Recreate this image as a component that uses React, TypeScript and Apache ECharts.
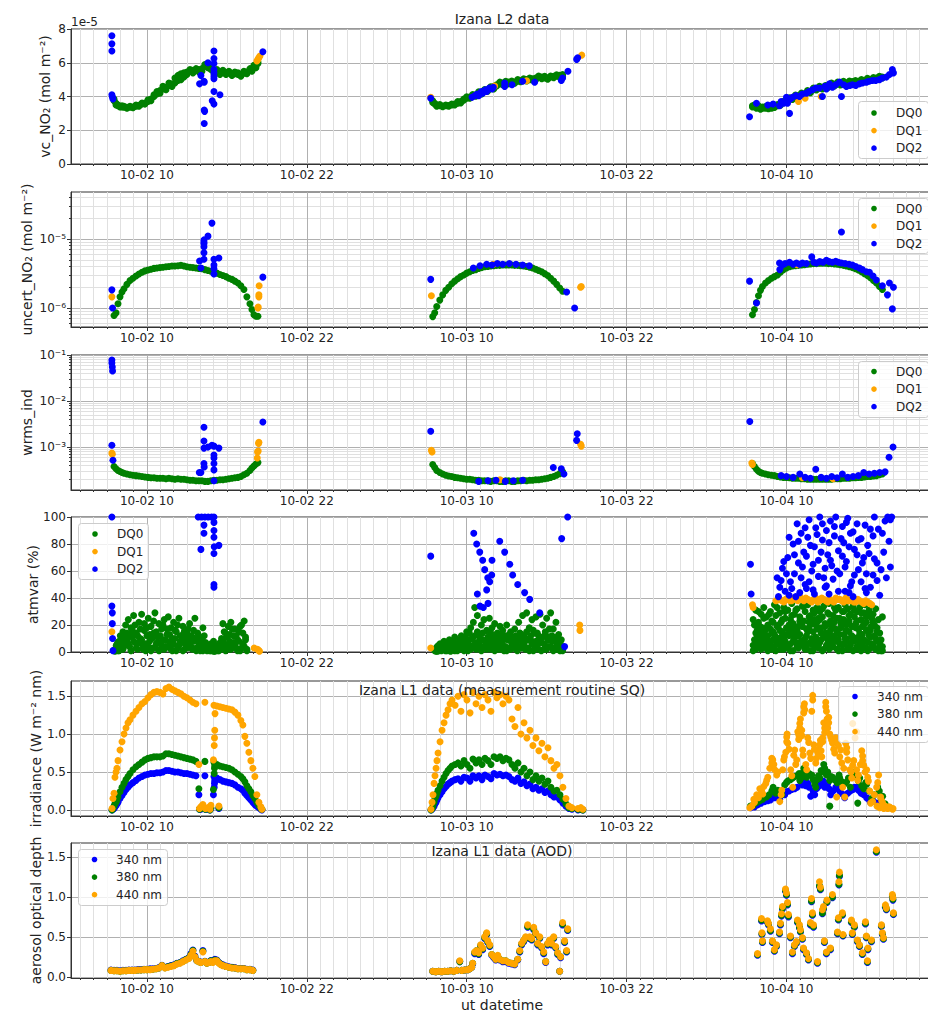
import React, { useEffect, useRef } from 'react';
import * as echarts from 'echarts';

const FONT = 'DejaVu Sans';
const INK = '#222222';
const GREEN = '#008000';
const ORANGE = '#ffa500';
const BLUE = '#0000ff';

// x: hours since 10-02 00:00 UT
const X_MIN = 4.3;
const X_MAX = 69.0;
const xMajorTicks = [10, 22, 34, 46, 58];

// ---------- L2: shared measurement times of the DQ0 records ----------
const l2Day1T = [7.53, 7.68, 7.83, 7.98, 8.13, 8.28, 8.5, 8.73, 8.95, 9.18, 9.4, 9.63, 9.85, 10.08, 10.3, 10.53, 10.75, 10.98, 11.2, 11.43, 11.65, 11.88, 12.1, 12.33, 12.55, 12.78, 13.0, 13.23, 13.45, 13.68, 13.9, 14.13, 14.35, 14.58, 14.8, 15.03, 15.25, 15.48, 15.7, 15.93, 16.15, 16.38, 16.6, 16.83, 17.05, 17.28, 17.5, 17.73, 17.88, 18.03, 18.18, 18.33];
const l2Day2T = [31.45, 31.6, 31.75, 31.98, 32.2, 32.43, 32.65, 32.88, 33.1, 33.33, 33.55, 33.78, 34.0, 34.23, 34.45, 34.68, 34.9, 35.13, 35.35, 35.58, 35.8, 36.03, 36.25, 36.48, 36.7, 36.93, 37.15, 37.38, 37.6, 37.83, 38.05, 38.28, 38.5, 38.73, 38.95, 39.18, 39.4, 39.63, 39.85, 40.08, 40.3, 40.53, 40.75, 40.98, 41.2];
const l2Day3T = [55.45, 55.6, 55.75, 55.9, 56.05, 56.2, 56.43, 56.65, 56.88, 57.1, 57.33, 57.55, 57.78, 58.0, 58.23, 58.45, 58.68, 58.9, 59.13, 59.35, 59.58, 59.8, 60.03, 60.25, 60.48, 60.7, 60.93, 61.15, 61.38, 61.6, 61.83, 62.05, 62.28, 62.5, 62.73, 62.95, 63.18, 63.4, 63.63, 63.85, 64.08, 64.3, 64.53, 64.75, 64.98, 65.2];

// vc_NO2 (units of 1e-5 mol m-2), two retrievals per time step
const vcDQ0Day1 = [3.75, 3.6, 3.5, 3.42, 3.38, 3.36, 3.36, 3.36, 3.38, 3.42, 3.48, 3.55, 3.62, 3.7, 3.85, 4.0, 4.15, 4.35, 4.45, 4.55, 4.65, 4.75, 4.8, 5.25, 5.0, 5.4, 5.45, 5.5, 5.55, 5.55, 5.6, 5.65, 5.8, 5.95, 5.6, 5.5, 5.45, 5.45, 5.45, 5.42, 5.4, 5.38, 5.35, 5.3, 5.3, 5.38, 5.45, 5.55, 5.65, 5.75, 5.85, 5.95];
const vcDQ0Day1b = [3.85, 3.5, 3.45, 3.38, 3.45, 3.42, 3.3, 3.42, 3.33, 3.5, 3.42, 3.62, 3.55, 3.8, 3.75, 4.1, 4.3, 4.2, 4.6, 4.4, 4.8, 4.6, 5.1, 4.95, 5.35, 5.15, 5.3, 5.6, 5.4, 5.65, 5.45, 5.5, 5.9, 5.7, 5.75, 5.35, 5.6, 5.3, 5.55, 5.3, 5.5, 5.25, 5.45, 5.4, 5.2, 5.5, 5.35, 5.65, 5.5, 5.85, 5.7, 6.05];
const vcDQ0Day2 = [3.75, 3.6, 3.5, 3.45, 3.44, 3.45, 3.47, 3.5, 3.55, 3.6, 3.7, 3.85, 3.9, 3.97, 4.05, 4.1, 4.2, 4.25, 4.35, 4.4, 4.5, 4.6, 4.7, 4.75, 4.8, 4.8, 4.85, 4.8, 4.85, 4.9, 4.95, 4.95, 5.0, 5.0, 5.05, 5.1, 5.15, 5.15, 5.1, 5.1, 5.15, 5.2, 5.2, 5.25, 5.2];
const vcDQ0Day2b = [3.65, 3.55, 3.42, 3.52, 3.4, 3.5, 3.42, 3.56, 3.5, 3.7, 3.62, 3.78, 3.98, 3.9, 4.12, 4.02, 4.28, 4.15, 4.42, 4.32, 4.58, 4.45, 4.62, 4.85, 4.7, 4.9, 4.75, 4.92, 4.78, 5.0, 4.88, 5.05, 4.92, 5.1, 4.98, 5.0, 5.22, 5.05, 5.2, 5.02, 5.22, 5.12, 5.28, 5.15, 5.3];
const vcDQ0Day3 = [3.45, 3.5, 3.4, 3.35, 3.3, 3.3, 3.3, 3.35, 3.3, 3.4, 3.45, 3.55, 3.65, 3.75, 3.85, 3.9, 4.0, 4.05, 4.1, 4.15, 4.25, 4.3, 4.4, 4.45, 4.5, 4.55, 4.55, 4.65, 4.7, 4.7, 4.75, 4.75, 4.8, 4.8, 4.85, 4.8, 4.85, 4.9, 4.9, 4.95, 5.0, 5.0, 5.05, 5.1, 5.15, 5.15];
const vcDQ0Day3b = [3.38, 3.42, 3.3, 3.45, 3.25, 3.38, 3.4, 3.28, 3.42, 3.35, 3.52, 3.48, 3.72, 3.68, 3.92, 3.82, 4.08, 3.95, 4.2, 4.05, 4.35, 4.22, 4.5, 4.38, 4.6, 4.45, 4.65, 4.55, 4.8, 4.62, 4.85, 4.68, 4.9, 4.75, 4.92, 4.88, 4.95, 4.82, 5.0, 4.88, 5.08, 4.95, 5.12, 5.02, 5.2, 5.1];
const vcDQ1 = [[18.25, 6.1], [18.33, 6.2], [18.4, 6.3], [18.48, 6.4], [31.3, 3.95], [36.1, 4.62], [38.5, 4.93], [42.63, 6.45], [58.9, 3.7], [59.4, 3.9], [60.6, 4.0]];
const vcDQ2 = [
  [7.37, 7.6], [7.37, 7.12], [7.37, 6.7], [7.37, 4.1], [7.42, 3.95], [7.45, 3.85],
  [14.05, 5.25], [13.95, 4.75], [14.3, 4.85], [14.28, 4.9], [14.3, 3.2], [14.33, 3.12], [14.3, 2.4], [14.58, 6.0],
  [15.03, 6.7], [15.03, 6.25], [15.03, 5.95], [15.03, 5.6], [15.03, 5.4], [15.03, 5.2], [15.03, 5.05], [15.03, 4.3], [14.9, 3.75], [15.03, 3.55], [15.48, 4.1], [18.7, 6.65],
  [31.3, 3.9], [34.4, 3.95], [34.6, 4.05], [34.8, 4.15], [34.9, 4.05], [35.1, 4.3], [35.2, 4.2], [35.4, 4.4], [35.5, 4.3], [35.7, 4.5], [35.9, 4.45], [36.0, 4.55], [36.85, 4.8], [36.85, 4.6], [37.4, 4.7], [38.2, 4.9], [39.1, 4.85], [41.1, 4.95], [41.2, 5.1], [41.6, 5.5], [42.25, 6.2], [42.33, 6.3],
  [55.23, 2.8], [55.75, 3.6], [56.6, 3.5], [57.0, 3.55], [57.48, 3.45], [57.6, 3.7], [57.8, 3.6], [58.0, 3.95], [58.08, 3.6], [58.23, 3.0], [58.3, 3.85], [58.45, 3.95], [58.7, 4.05], [58.98, 4.0], [59.2, 4.15], [59.5, 4.2], [59.7, 4.3], [59.95, 4.4], [60.2, 4.5], [60.48, 4.5], [60.7, 4.0], [60.9, 4.6], [61.0, 4.45], [61.23, 4.75], [61.45, 4.55], [61.7, 4.7], [61.98, 4.85], [62.13, 4.0], [62.3, 4.7], [62.5, 4.6], [62.75, 4.65], [62.95, 4.7], [63.2, 4.65], [63.48, 4.75], [63.7, 4.8], [64.0, 4.85], [64.2, 4.9], [64.45, 4.95], [64.7, 4.95], [64.98, 5.0], [65.2, 5.1], [65.5, 5.15], [65.73, 5.3], [65.95, 5.6], [66.03, 5.4],
];

// uncert_NO2 (mol m-2)
const uncDQ0Day1 = [7.8e-7, 8.5e-7, 1.15e-6, 1.45e-6, 1.7e-6, 1.9e-6, 2.2e-6, 2.5e-6, 2.7e-6, 2.9e-6, 3.1e-6, 3.3e-6, 3.45e-6, 3.55e-6, 3.65e-6, 3.75e-6, 3.8e-6, 3.85e-6, 3.9e-6, 3.95e-6, 4.0e-6, 4.05e-6, 4.05e-6, 4.1e-6, 4.15e-6, 4.05e-6, 3.95e-6, 3.9e-6, 3.85e-6, 3.8e-6, 3.75e-6, 3.7e-6, 3.6e-6, 3.5e-6, 3.4e-6, 3.3e-6, 3.2e-6, 3.05e-6, 2.95e-6, 2.85e-6, 2.7e-6, 2.6e-6, 2.45e-6, 2.3e-6, 2.1e-6, 1.85e-6, 1.45e-6, 1.15e-6, 9.5e-7, 8.0e-7, 7.6e-7, 7.6e-7];
const uncDQ0Day2 = [7.5e-7, 8.5e-7, 1.05e-6, 1.3e-6, 1.55e-6, 1.8e-6, 2.0e-6, 2.25e-6, 2.45e-6, 2.65e-6, 2.85e-6, 3.0e-6, 3.2e-6, 3.35e-6, 3.5e-6, 3.6e-6, 3.75e-6, 3.85e-6, 3.95e-6, 4.0e-6, 4.05e-6, 4.1e-6, 4.15e-6, 4.15e-6, 4.2e-6, 4.2e-6, 4.2e-6, 4.2e-6, 4.15e-6, 4.15e-6, 4.1e-6, 4.05e-6, 4.0e-6, 3.9e-6, 3.8e-6, 3.65e-6, 3.5e-6, 3.35e-6, 3.15e-6, 2.95e-6, 2.7e-6, 2.45e-6, 2.2e-6, 1.95e-6, 1.75e-6];
const uncDQ0Day3 = [8.0e-7, 9.5e-7, 1.2e-6, 1.5e-6, 1.8e-6, 2.05e-6, 2.3e-6, 2.5e-6, 2.7e-6, 2.85e-6, 3.0e-6, 3.3e-6, 3.6e-6, 3.8e-6, 3.95e-6, 4.05e-6, 4.1e-6, 4.15e-6, 4.2e-6, 4.25e-6, 4.3e-6, 4.35e-6, 4.4e-6, 4.4e-6, 4.45e-6, 4.45e-6, 4.45e-6, 4.4e-6, 4.4e-6, 4.35e-6, 4.3e-6, 4.25e-6, 4.15e-6, 4.05e-6, 3.95e-6, 3.85e-6, 3.7e-6, 3.55e-6, 3.35e-6, 3.15e-6, 2.95e-6, 2.75e-6, 2.5e-6, 2.3e-6, 2.05e-6, 1.85e-6];
const uncDQ1 = [[7.37, 1.45e-6], [18.33, 1.0e-6], [18.35, 1.03e-6], [18.4, 1.45e-6], [18.4, 1.55e-6], [18.42, 2.1e-6], [31.35, 1.5e-6], [36.0, 4.3e-6], [42.55, 2.0e-6], [42.6, 2.05e-6], [58.8, 4.25e-6]];
const uncDQ2 = [
  [7.37, 1.83e-6], [7.42, 1.0e-6], [13.95, 4.8e-6], [14.05, 3.8e-6], [14.28, 9.7e-6], [14.28, 9.0e-6], [14.28, 8.5e-6], [14.28, 7.7e-6], [14.28, 6.3e-6], [14.28, 5.1e-6], [14.58, 1.1e-5], [14.88, 1.7e-5], [15.03, 5.1e-6], [15.03, 4.2e-6], [15.03, 3.7e-6], [15.03, 3.1e-6], [15.4, 5.3e-6], [18.7, 2.8e-6],
  [31.3, 2.6e-6], [34.5, 3.8e-6], [35.0, 4.1e-6], [35.5, 4.3e-6], [35.9, 4.2e-6], [36.3, 4.4e-6], [36.7, 4.3e-6], [37.2, 4.4e-6], [37.7, 4.3e-6], [38.2, 4.2e-6], [38.7, 4.1e-6], [41.5, 1.7e-6], [42.1, 1.0e-6],
  [55.23, 2.45e-6], [55.75, 1.18e-6], [57.48, 4.5e-6], [57.5, 3.6e-6], [57.7, 4.2e-6], [57.9, 4.4e-6], [58.23, 4.6e-6], [58.5, 4.3e-6], [58.75, 4.5e-6], [58.98, 4.3e-6], [59.2, 4.5e-6], [59.5, 4.4e-6], [59.9, 5.5e-6], [60.05, 4.6e-6], [60.25, 4.5e-6], [60.5, 4.7e-6], [60.75, 4.6e-6], [61.0, 4.9e-6], [61.2, 4.7e-6], [61.45, 4.6e-6], [61.7, 4.75e-6], [61.9, 4.6e-6], [62.13, 1.26e-5], [62.13, 4.5e-6], [62.4, 4.4e-6], [62.7, 4.3e-6], [62.95, 4.2e-6], [63.2, 4.0e-6], [63.48, 3.8e-6], [63.7, 3.6e-6], [64.0, 3.35e-6], [64.23, 3.3e-6], [64.5, 2.9e-6], [64.75, 2.55e-6], [65.2, 2.1e-6], [65.58, 1.55e-6], [65.73, 2.3e-6], [65.95, 9.7e-7], [66.03, 2.0e-6],
];

// wrms_ind
const wrmsDQ0Day1 = [3.8e-4, 3.4e-4, 3.1e-4, 2.95e-4, 2.8e-4, 2.7e-4, 2.6e-4, 2.5e-4, 2.45e-4, 2.4e-4, 2.35e-4, 2.3e-4, 2.25e-4, 2.2e-4, 2.15e-4, 2.15e-4, 2.1e-4, 2.1e-4, 2.1e-4, 2.05e-4, 2.1e-4, 2.05e-4, 2.0e-4, 2.05e-4, 2.0e-4, 2.0e-4, 1.95e-4, 1.9e-4, 1.9e-4, 1.85e-4, 1.85e-4, 1.85e-4, 1.8e-4, 1.8e-4, 1.85e-4, 1.9e-4, 1.9e-4, 1.95e-4, 1.95e-4, 2.0e-4, 2.05e-4, 2.1e-4, 2.15e-4, 2.2e-4, 2.3e-4, 2.5e-4, 2.7e-4, 3.1e-4, 3.5e-4, 3.9e-4, 4.3e-4, 4.6e-4];
const wrmsDQ0Day2 = [4.2e-4, 3.6e-4, 3.1e-4, 2.8e-4, 2.6e-4, 2.45e-4, 2.35e-4, 2.3e-4, 2.2e-4, 2.15e-4, 2.1e-4, 2.05e-4, 2.0e-4, 2.0e-4, 1.95e-4, 1.9e-4, 1.9e-4, 1.85e-4, 1.85e-4, 1.85e-4, 1.8e-4, 1.85e-4, 1.85e-4, 1.8e-4, 1.8e-4, 1.85e-4, 1.85e-4, 1.8e-4, 1.8e-4, 1.85e-4, 1.85e-4, 1.9e-4, 1.85e-4, 1.9e-4, 1.9e-4, 1.95e-4, 1.95e-4, 2.0e-4, 2.05e-4, 2.1e-4, 2.2e-4, 2.3e-4, 2.45e-4, 2.65e-4, 2.9e-4];
const wrmsDQ0Day3 = [4.4e-4, 3.8e-4, 3.3e-4, 3.0e-4, 2.8e-4, 2.7e-4, 2.6e-4, 2.5e-4, 2.45e-4, 2.4e-4, 2.3e-4, 2.25e-4, 2.2e-4, 2.2e-4, 2.15e-4, 2.1e-4, 2.1e-4, 2.1e-4, 2.05e-4, 2.05e-4, 2.0e-4, 2.0e-4, 2.0e-4, 2.0e-4, 2.0e-4, 2.0e-4, 2.0e-4, 2.0e-4, 2.0e-4, 2.05e-4, 2.05e-4, 2.05e-4, 2.1e-4, 2.1e-4, 2.1e-4, 2.15e-4, 2.15e-4, 2.2e-4, 2.2e-4, 2.25e-4, 2.3e-4, 2.3e-4, 2.35e-4, 2.4e-4, 2.5e-4, 2.6e-4];
const wrmsDQ1 = [[7.37, 7.4e-4], [7.4, 7.0e-4], [18.28, 5.8e-4], [18.3, 7.8e-4], [18.35, 8.2e-4], [18.38, 1.2e-3], [18.4, 1.27e-3], [31.35, 8.5e-4], [31.4, 7.8e-4], [36.5, 1.95e-4], [42.55, 1.15e-3], [42.6, 1.05e-3], [55.4, 4.5e-4], [55.45, 4.2e-4], [59.2, 2.15e-4], [61.5, 2.05e-4]];
const wrmsDQ2 = [
  [7.37, 7.8e-2], [7.37, 6.7e-2], [7.4, 5.5e-2], [7.42, 4.5e-2], [7.37, 1.1e-3], [7.45, 5.2e-4], [13.93, 2.8e-4], [14.05, 2.8e-4], [14.28, 2.7e-3], [14.28, 1.35e-3], [14.28, 9.5e-4], [14.28, 4.4e-4], [14.3, 3.7e-4], [14.58, 1.0e-3], [14.88, 1.1e-3], [15.03, 1.05e-3], [15.03, 6.7e-4], [15.03, 5.8e-4], [15.03, 4.4e-4], [15.03, 3.2e-4], [15.03, 1.85e-4], [15.4, 9.5e-4], [18.7, 3.5e-3],
  [31.3, 2.2e-3], [34.9, 1.8e-4], [35.6, 1.85e-4], [36.2, 1.9e-4], [36.9, 1.8e-4], [37.5, 1.85e-4], [38.2, 1.9e-4], [40.5, 3.6e-4], [41.1, 3.4e-4], [41.3, 2.6e-4], [42.25, 1.4e-3], [42.3, 1.95e-3],
  [55.25, 3.6e-3], [57.6, 2.4e-4], [58.0, 2.3e-4], [58.5, 2.2e-4], [59.0, 2.6e-4], [59.4, 2.2e-4], [59.8, 2.1e-4], [60.2, 3.3e-4], [60.6, 2.2e-4], [61.0, 2.1e-4], [61.4, 2.3e-4], [61.8, 2.15e-4], [62.2, 2.6e-4], [62.6, 2.2e-4], [63.0, 2.3e-4], [63.4, 2.4e-4], [63.8, 2.8e-4], [64.2, 2.6e-4], [64.6, 2.7e-4], [65.0, 2.8e-4], [65.4, 2.9e-4], [65.7, 6.0e-4], [66.0, 1.0e-3],
];

// atmvar (%), several records per time step
const atmDay1T = [7.6, 7.7, 7.8, 7.9, 8.0, 8.1, 8.2, 8.3, 8.4, 8.5, 8.6, 8.7, 8.8, 8.9, 9.0, 9.1, 9.2, 9.3, 9.4, 9.5, 9.6, 9.7, 9.8, 9.9, 10.0, 10.1, 10.2, 10.3, 10.4, 10.5, 10.6, 10.7, 10.8, 10.9, 11.0, 11.1, 11.2, 11.3, 11.4, 11.5, 11.6, 11.7, 11.8, 11.9, 12.0, 12.1, 12.2, 12.3, 12.4, 12.5, 12.6, 12.7, 12.8, 12.9, 13.0, 13.1, 13.2, 13.3, 13.4, 13.5, 13.6, 13.7, 13.8, 13.9, 14.0, 14.1, 14.2, 14.3, 14.4, 14.5, 14.6, 14.7, 14.8, 14.9, 15.0, 15.1, 15.2, 15.3, 15.4, 15.5, 15.6, 15.7, 15.8, 15.9, 16.0, 16.1, 16.2, 16.3, 16.4, 16.5, 16.6, 16.7, 16.8, 16.9, 17.0, 17.1, 17.2, 17.3, 17.4, 17.5];
const atmDQ0Day1 = [2, 5, 1, 8, 12, 3, 15, 6, 20, 9, 24, 4, 18, 11, 27, 7, 14, 2, 22, 10, 28, 5, 16, 1, 12, 25, 8, 19, 3, 14, 29, 6, 11, 21, 2, 17, 9, 24, 4, 13, 26, 7, 18, 1, 22, 10, 15, 3, 25, 8, 12, 19, 2, 6, 14, 9, 21, 4, 11, 16, 25, 3, 8, 12, 1, 5, 18, 2, 7, 3, 4, 1, 6, 2, 8, 0.5, 3, 5, 1, 7, 10, 21, 6, 14, 2, 19, 8, 22, 4, 12, 17, 3, 9, 15, 1, 20, 6, 23, 11, 2];
const atmDQ0Day1b = [0.5, 3, 7, 1, 4, 10, 2, 11, 5, 14, 6, 13, 1, 16, 8, 20, 3, 12, 7, 17, 9, 2, 21, 6, 18, 4, 13, 1, 10, 23, 3, 15, 7, 1, 12, 5, 20, 2, 9, 17, 4, 13, 2, 10, 6, 16, 1, 20, 5, 12, 7, 1, 15, 10, 3, 17, 6, 12, 2, 8, 10, 1, 14, 5, 3, 9, 1, 12, 4, 1, 2, 5, 1, 3, 0.5, 4, 2, 1, 3, 2, 3, 8, 15, 1, 11, 5, 13, 2, 17, 7, 5, 12, 1, 8, 19, 3, 14, 4, 9, 1];
const atmDay2T = [31.6, 31.7, 31.8, 31.9, 32.0, 32.1, 32.2, 32.3, 32.4, 32.5, 32.6, 32.7, 32.8, 32.9, 33.0, 33.1, 33.2, 33.3, 33.4, 33.5, 33.6, 33.7, 33.8, 33.9, 34.0, 34.1, 34.2, 34.3, 34.4, 34.5, 34.6, 34.7, 34.8, 34.9, 35.0, 35.1, 35.2, 35.3, 35.4, 35.5, 35.6, 35.7, 35.8, 35.9, 36.0, 36.1, 36.2, 36.3, 36.4, 36.5, 36.6, 36.7, 36.8, 36.9, 37.0, 37.1, 37.2, 37.3, 37.4, 37.5, 37.6, 37.7, 37.8, 37.9, 38.0, 38.1, 38.2, 38.3, 38.4, 38.5, 38.6, 38.7, 38.8, 38.9, 39.0, 39.1, 39.2, 39.3, 39.4, 39.5, 39.6, 39.7, 39.8, 39.9, 40.0, 40.1, 40.2, 40.3, 40.4, 40.5, 40.6, 40.7, 40.8, 40.9, 41.0, 41.1, 41.2];
const atmDQ0Day2 = [2, 0.5, 4, 1, 6, 2, 3, 8, 1, 5, 3, 9, 0.5, 6, 2, 11, 4, 1, 7, 3, 12, 2, 8, 5, 15, 1, 9, 18, 4, 22, 33, 7, 27, 13, 3, 20, 9, 24, 5, 16, 11, 25, 2, 18, 7, 21, 4, 14, 10, 19, 6, 16, 1, 12, 20, 3, 9, 15, 5, 11, 17, 2, 8, 22, 4, 13, 27, 6, 10, 29, 3, 18, 9, 24, 1, 14, 26, 5, 12, 28, 7, 20, 2, 15, 25, 4, 11, 29, 8, 17, 3, 22, 6, 13, 1, 9, 4];
const atmDQ0Day2b = [1, 3, 0.5, 5, 2, 1, 6, 2, 4, 1, 5, 1, 4, 2, 8, 1, 3, 6, 2, 9, 4, 7, 1, 11, 3, 6, 14, 2, 10, 5, 12, 2, 15, 6, 10, 1, 14, 4, 8, 2, 5, 9, 14, 3, 11, 1, 8, 6, 2, 12, 2, 8, 11, 4, 1, 9, 13, 2, 7, 3, 6, 12, 1, 9, 14, 3, 7, 11, 2, 15, 9, 1, 12, 6, 16, 3, 8, 14, 2, 10, 1, 11, 6, 13, 2, 9, 17, 4, 12, 1, 8, 2, 11, 4, 7, 2, 1];
const atmDay3T = [55.5, 55.6, 55.7, 55.8, 55.9, 56.0, 56.1, 56.2, 56.3, 56.4, 56.5, 56.6, 56.7, 56.8, 56.9, 57.0, 57.1, 57.2, 57.3, 57.4, 57.5, 57.6, 57.7, 57.8, 57.9, 58.0, 58.1, 58.2, 58.3, 58.4, 58.5, 58.6, 58.7, 58.8, 58.9, 59.0, 59.1, 59.2, 59.3, 59.4, 59.5, 59.6, 59.7, 59.8, 59.9, 60.0, 60.1, 60.2, 60.3, 60.4, 60.5, 60.6, 60.7, 60.8, 60.9, 61.0, 61.1, 61.2, 61.3, 61.4, 61.5, 61.6, 61.7, 61.8, 61.9, 62.0, 62.1, 62.2, 62.3, 62.4, 62.5, 62.6, 62.7, 62.8, 62.9, 63.0, 63.1, 63.2, 63.3, 63.4, 63.5, 63.6, 63.7, 63.8, 63.9, 64.0, 64.1, 64.2, 64.3, 64.4, 64.5, 64.6, 64.7, 64.8, 64.9, 65.0, 65.1, 65.2];
const atmDQ0Day3 = [5, 20, 2, 12, 30, 8, 15, 3, 25, 10, 18, 1, 28, 6, 14, 22, 4, 11, 33, 7, 16, 2, 24, 9, 30, 5, 13, 20, 1, 27, 8, 17, 31, 4, 12, 23, 6, 19, 34, 10, 3, 15, 26, 7, 21, 1, 29, 11, 17, 5, 24, 9, 32, 2, 14, 20, 6, 28, 12, 4, 18, 33, 8, 25, 1, 13, 22, 5, 30, 10, 16, 3, 27, 7, 19, 11, 31, 2, 23, 9, 14, 29, 4, 20, 8, 26, 1, 12, 18, 6, 22, 3, 10, 15, 2, 7, 1, 4];
const atmDQ0Day3b = [1, 9, 14, 4, 7, 19, 2, 11, 6, 16, 3, 12, 8, 17, 2, 9, 13, 1, 7, 20, 5, 11, 15, 2, 8, 18, 3, 12, 6, 14, 1, 10, 7, 16, 3, 13, 20, 5, 9, 2, 12, 6, 18, 1, 10, 15, 4, 8, 22, 3, 7, 14, 1, 11, 19, 5, 9, 2, 16, 8, 4, 12, 17, 2, 9, 6, 21, 1, 13, 7, 10, 2, 15, 5, 12, 1, 8, 18, 4, 11, 6, 1, 13, 9, 3, 16, 7, 2, 11, 19, 5, 12, 2, 8, 1, 4, 2, 1];
const atmDQ0Day3c = [24, 3, 31, 16, 22, 6, 28, 18, 33, 12, 26, 20, 4, 30, 23, 15, 35, 27, 19, 10, 29, 22, 7, 33, 25, 13, 31, 17, 24, 36, 21, 28, 14, 32, 19, 26, 8, 34, 23, 30, 17, 35, 22, 27, 6, 31, 24, 20, 33, 25, 30, 18, 26, 34, 21, 12, 29, 36, 23, 19, 27, 22, 31, 15, 33, 25, 18, 30, 24, 35, 20, 32, 23, 28, 11, 34, 26, 21, 30, 17, 33, 24, 19, 29, 35, 22, 27, 31, 16, 25, 28, 20, 32, 18, 24, 14, 9, 26];
const atmDQ1 = [[7.37, 15], [18.05, 3], [18.3, 2], [18.4, 1], [18.45, 0.5], [31.3, 3], [42.48, 20], [42.5, 16], [55.45, 35], [55.5, 33], [57.2, 38], [57.35, 38.5], [57.5, 39], [57.65, 38], [57.8, 37], [57.95, 39], [58.1, 40], [58.25, 38], [58.4, 38], [58.55, 40], [58.7, 39], [58.85, 38], [59.0, 41], [59.15, 39], [59.3, 38], [59.45, 40], [59.6, 39], [59.75, 38], [59.9, 37], [60.05, 39], [60.2, 40], [60.35, 37], [60.5, 38], [60.65, 40], [60.8, 39], [60.95, 38], [61.1, 37], [61.25, 39], [61.4, 38], [61.55, 37], [61.7, 40], [61.85, 39], [62.0, 39], [62.15, 38], [62.3, 37], [62.45, 40], [62.6, 38], [62.75, 38], [62.9, 39], [63.05, 37], [63.2, 37], [63.35, 39], [63.5, 38], [63.65, 37], [63.8, 36], [63.95, 38], [64.1, 37], [64.25, 36], [64.4, 35]];
const atmDQ2 = [
  [7.37, 100], [7.37, 34], [7.4, 29], [7.4, 21], [7.42, 10], [7.45, 1], [13.85, 100], [14.1, 100], [14.35, 100], [14.6, 100], [14.85, 100], [15.03, 100], [14.28, 94], [14.28, 88], [14.05, 76], [15.03, 96], [15.03, 90], [15.03, 85], [15.05, 78], [15.03, 73], [15.03, 50], [15.03, 48], [15.4, 79],
  [31.3, 71], [34.53, 88], [34.75, 80], [34.8, 43], [34.98, 74], [35.0, 34], [35.2, 68], [35.25, 33], [35.35, 61], [35.5, 46], [35.58, 55], [35.6, 36], [35.73, 52], [35.88, 57], [35.9, 68], [36.48, 82], [36.85, 74], [37.23, 65], [37.45, 57], [37.83, 50], [38.35, 44], [38.73, 39], [39.48, 29], [41.13, 84], [41.58, 100], [41.35, 4],
  [55.3, 65], [55.35, 43], [57.3, 55], [57.4, 41], [57.5, 48], [57.6, 53], [57.7, 62], [57.8, 67], [57.9, 45], [58.0, 58], [58.1, 70], [58.2, 42], [58.2, 85], [58.3, 52], [58.4, 47], [58.5, 80], [58.6, 58], [58.6, 72], [58.7, 41], [58.8, 95], [58.9, 66], [58.9, 82], [59.0, 44], [59.1, 88], [59.1, 55], [59.2, 63], [59.3, 74], [59.4, 50], [59.4, 92], [59.5, 47], [59.5, 71], [59.6, 85], [59.7, 98], [59.7, 52], [59.8, 79], [59.9, 60], [60.0, 46], [60.0, 65], [60.1, 78], [60.1, 43], [60.2, 92], [60.3, 87], [60.4, 68], [60.4, 56], [60.5, 100], [60.6, 74], [60.7, 83], [60.7, 95], [60.8, 55], [60.9, 48], [60.9, 62], [61.0, 90], [61.0, 49], [61.1, 72], [61.2, 43], [61.2, 81], [61.3, 97], [61.3, 68], [61.4, 64], [61.5, 54], [61.6, 86], [61.6, 93], [61.7, 100], [61.8, 60], [61.9, 75], [61.9, 45], [62.0, 58], [62.1, 84], [62.2, 93], [62.2, 71], [62.3, 81], [62.4, 45], [62.4, 63], [62.5, 67], [62.5, 96], [62.6, 99], [62.7, 44], [62.7, 78], [62.8, 88], [62.8, 49], [62.9, 52], [63.0, 41], [63.0, 89], [63.1, 76], [63.1, 57], [63.3, 95], [63.3, 72], [63.4, 61], [63.4, 83], [63.6, 84], [63.6, 52], [63.7, 66], [63.8, 70], [63.9, 47], [63.9, 94], [64.0, 44], [64.0, 58], [64.1, 79], [64.2, 73], [64.3, 91], [64.3, 48], [64.5, 57], [64.5, 86], [64.6, 100], [64.6, 69], [64.8, 66], [64.8, 53], [64.9, 91], [65.0, 42], [65.1, 61], [65.2, 88], [65.3, 74], [65.4, 97], [65.5, 55], [65.6, 100], [65.7, 82], [65.8, 98], [65.8, 63], [65.9, 100],
];

// ---------- L1 irradiance (W m-2 nm) ----------
const irrDay1T = [7.38, 7.45, 7.53, 7.6, 7.68, 7.75, 7.83, 7.98, 8.13, 8.28, 8.43, 8.58, 8.73, 8.95, 9.18, 9.4, 9.63, 9.85, 10.08, 10.3, 10.53, 10.75, 10.98, 11.2, 11.43, 11.65, 11.88, 12.1, 12.33, 12.55, 12.78, 13.0, 13.23, 13.45, 13.68, 13.9, 14.13, 14.35, 14.58, 14.8, 15.03, 15.25, 15.48, 15.7, 15.93, 16.15, 16.38, 16.6, 16.83, 17.05, 17.2, 17.35, 17.5, 17.65, 17.8, 17.95, 18.1, 18.25, 18.4, 18.55, 18.63, 13.94, 14.05, 14.2, 14.39, 14.73, 14.99, 15.05, 15.07, 15.09, 15.11, 15.4];
const irr440Day1 = [0.02, 0.15, 0.22, 0.43, 0.5, 0.55, 0.65, 0.79, 0.9, 1.0, 1.08, 1.15, 1.19, 1.25, 1.3, 1.35, 1.4, 1.43, 1.48, 1.52, 1.55, 1.56, 1.55, 1.53, 1.6, 1.62, 1.59, 1.57, 1.55, 1.53, 1.5, 1.48, 1.45, 1.42, 1.4, 0.6, 0.05, 1.42, 0.03, 0.06, 1.38, 1.37, 1.36, 1.35, 1.34, 1.33, 1.32, 1.29, 1.25, 1.18, 1.12, 0.97, 0.88, 0.76, 0.65, 0.55, 0.44, 0.2, 0.1, 0.04, 0.01, 0.02, 0.04, 0.07, 0.02, 0.01, 0.66, 0.85, 0.95, 1.05, 1.27, 0.05];
const irr380Day1 = [0.0, 0.02, 0.05, 0.08, 0.1, 0.13, 0.17, 0.24, 0.3, 0.35, 0.4, 0.44, 0.48, 0.53, 0.57, 0.6, 0.63, 0.66, 0.68, 0.69, 0.7, 0.7, 0.7, 0.71, 0.74, 0.74, 0.73, 0.72, 0.71, 0.7, 0.69, 0.68, 0.67, 0.66, 0.64, 0.28, 0.03, 0.64, 0.02, 0.03, 0.63, 0.6, 0.58, 0.57, 0.56, 0.55, 0.53, 0.5, 0.47, 0.44, 0.41, 0.37, 0.32, 0.28, 0.24, 0.19, 0.15, 0.1, 0.06, 0.02, 0.01, 0.01, 0.02, 0.03, 0.01, 0.0, 0.27, 0.48, 0.55, 0.58, 0.6, 0.03];
const irr340Day1 = [0.0, 0.01, 0.02, 0.04, 0.06, 0.08, 0.1, 0.15, 0.19, 0.23, 0.27, 0.3, 0.33, 0.36, 0.39, 0.42, 0.44, 0.46, 0.47, 0.48, 0.48, 0.49, 0.49, 0.5, 0.52, 0.52, 0.51, 0.5, 0.5, 0.49, 0.48, 0.48, 0.47, 0.46, 0.45, 0.2, 0.02, 0.45, 0.01, 0.02, 0.44, 0.42, 0.4, 0.38, 0.37, 0.36, 0.35, 0.33, 0.3, 0.28, 0.26, 0.22, 0.19, 0.16, 0.13, 0.1, 0.07, 0.05, 0.03, 0.01, 0.0, 0.01, 0.01, 0.02, 0.01, 0.0, 0.2, 0.3, 0.35, 0.38, 0.4, 0.02];
const irrDay2T = [31.32, 31.4, 31.47, 31.55, 31.62, 31.7, 31.77, 31.85, 32.0, 32.15, 32.3, 32.45, 32.6, 32.75, 32.9, 33.13, 33.35, 33.57, 33.8, 34.02, 34.25, 34.47, 34.7, 34.92, 35.15, 35.37, 35.6, 35.82, 36.05, 36.27, 36.5, 36.72, 36.95, 37.17, 37.4, 37.62, 37.85, 38.07, 38.3, 38.52, 38.75, 38.97, 39.2, 39.42, 39.65, 39.87, 40.1, 40.32, 40.55, 40.77, 41.0, 41.22, 41.45, 41.67, 41.9, 42.35, 42.57, 42.72];
const irr440Day2 = [0.01, 0.1, 0.2, 0.35, 0.45, 0.55, 0.65, 0.75, 0.9, 1.05, 1.15, 1.25, 1.32, 1.4, 1.45, 1.38, 1.5, 1.3, 1.52, 1.45, 1.28, 1.55, 1.4, 1.5, 1.35, 1.52, 1.45, 1.3, 1.55, 1.48, 1.52, 1.4, 1.5, 1.45, 1.2, 1.1, 1.35, 1.0, 1.15, 0.95, 1.05, 0.85, 0.95, 0.78, 0.88, 0.7, 0.82, 0.65, 0.55, 0.6, 0.45, 0.3, 0.15, 0.05, 0.03, 0.02, 0.03, 0.01];
const irr380Day2 = [0.0, 0.02, 0.05, 0.1, 0.15, 0.18, 0.22, 0.26, 0.32, 0.38, 0.43, 0.48, 0.52, 0.55, 0.58, 0.6, 0.62, 0.58, 0.65, 0.6, 0.55, 0.67, 0.62, 0.66, 0.6, 0.68, 0.65, 0.6, 0.7, 0.68, 0.7, 0.65, 0.68, 0.66, 0.6, 0.55, 0.62, 0.5, 0.55, 0.45, 0.5, 0.4, 0.45, 0.38, 0.42, 0.34, 0.38, 0.3, 0.25, 0.26, 0.2, 0.14, 0.08, 0.03, 0.02, 0.01, 0.01, 0.0];
const irr340Day2 = [0.0, 0.01, 0.03, 0.05, 0.08, 0.1, 0.13, 0.16, 0.2, 0.24, 0.28, 0.31, 0.34, 0.36, 0.38, 0.4, 0.41, 0.38, 0.43, 0.42, 0.38, 0.45, 0.42, 0.45, 0.4, 0.46, 0.44, 0.41, 0.48, 0.46, 0.47, 0.45, 0.46, 0.44, 0.4, 0.38, 0.42, 0.35, 0.37, 0.32, 0.34, 0.28, 0.3, 0.26, 0.28, 0.23, 0.25, 0.2, 0.17, 0.17, 0.13, 0.09, 0.05, 0.02, 0.01, 0.0, 0.01, 0.0];
const irr440Day3 = [[55.25, 0.03], [55.4, 0.05], [55.55, 0.14], [55.6, 0.1], [55.77, 0.2], [55.9, 0.16], [56.0, 0.28], [56.15, 0.24], [56.22, 0.21], [56.3, 0.31], [56.45, 0.35], [56.52, 0.39], [56.6, 0.43], [56.75, 0.55], [56.9, 0.68], [56.9, 0.62], [56.97, 0.66], [57.05, 0.6], [57.12, 0.53], [57.27, 0.46], [57.35, 0.5], [57.5, 0.11], [57.6, 0.2], [57.65, 0.26], [57.72, 0.53], [57.8, 0.66], [57.85, 0.7], [57.95, 0.76], [58.02, 0.96], [58.02, 0.9], [58.05, 1.0], [58.1, 0.88], [58.2, 0.8], [58.32, 0.53], [58.4, 0.45], [58.47, 0.3], [58.55, 0.72], [58.62, 0.79], [58.7, 0.6], [58.77, 0.66], [58.85, 1.03], [58.92, 0.99], [58.92, 0.93], [59.0, 1.14], [59.0, 1.08], [59.05, 1.2], [59.15, 1.05], [59.15, 0.98], [59.22, 0.79], [59.25, 0.72], [59.3, 1.36], [59.3, 1.28], [59.35, 1.4], [59.37, 1.32], [59.45, 0.6], [59.52, 0.53], [59.6, 0.95], [59.67, 0.89], [59.75, 0.75], [59.82, 0.68], [59.9, 1.3], [59.97, 1.51], [59.97, 1.45], [60.05, 0.86], [60.1, 0.8], [60.2, 0.62], [60.25, 0.68], [60.35, 0.75], [60.4, 0.8], [60.5, 0.86], [60.55, 0.92], [60.6, 0.78], [60.65, 0.7], [60.72, 0.95], [60.72, 0.9], [60.8, 1.15], [60.87, 1.08], [60.87, 1.02], [60.95, 1.42], [60.95, 1.36], [61.0, 1.3], [61.05, 1.2], [61.1, 1.14], [61.1, 1.08], [61.17, 1.22], [61.17, 1.15], [61.25, 1.0], [61.32, 0.96], [61.4, 0.92], [61.47, 0.88], [61.55, 0.8], [61.62, 0.75], [61.7, 0.95], [61.77, 0.89], [61.77, 0.17], [61.9, 0.85], [62.0, 0.7], [62.07, 0.79], [62.15, 0.62], [62.22, 0.3], [62.3, 0.55], [62.37, 0.17], [62.45, 0.88], [62.52, 0.82], [62.52, 0.76], [62.6, 0.66], [62.75, 0.53], [62.85, 0.5], [62.9, 0.42], [62.97, 0.59], [62.97, 1.14], [63.05, 0.65], [63.15, 0.95], [63.27, 0.53], [63.27, 1.03], [63.35, 0.39], [63.4, 0.46], [63.55, 0.6], [63.65, 0.78], [63.72, 0.71], [63.72, 0.65], [63.8, 0.59], [63.9, 0.5], [64.02, 0.53], [64.1, 0.43], [64.15, 0.38], [64.25, 0.25], [64.32, 0.09], [64.47, 0.11], [64.6, 0.2], [64.77, 0.3], [64.8, 0.05], [64.85, 0.36], [64.92, 0.46], [65.0, 0.03], [65.07, 0.17], [65.15, 0.12], [65.22, 0.09], [65.3, 0.02], [65.4, 0.05], [65.52, 0.03], [65.6, 0.02], [65.7, 0.04], [65.8, 0.03], [65.97, 0.01], [66.0, 0.02]];
const irr380Day3 = [[55.3, 0.05], [55.5, 0.06], [55.77, 0.1], [56.0, 0.12], [56.22, 0.14], [56.5, 0.17], [56.7, 0.2], [56.9, 0.25], [56.97, 0.27], [57.0, 0.3], [57.2, 0.22], [57.35, 0.26], [57.6, 0.24], [57.65, 0.2], [57.87, 0.33], [58.0, 0.36], [58.1, 0.38], [58.3, 0.4], [58.47, 0.42], [58.6, 0.44], [58.8, 0.45], [58.95, 0.48], [59.0, 0.39], [59.1, 0.42], [59.22, 0.49], [59.3, 0.55], [59.4, 0.52], [59.52, 0.43], [59.7, 0.48], [59.9, 0.46], [60.0, 0.4], [60.12, 0.34], [60.2, 0.3], [60.3, 0.4], [60.4, 0.45], [60.5, 0.42], [60.6, 0.52], [60.7, 0.5], [60.8, 0.6], [60.87, 0.55], [61.0, 0.46], [61.1, 0.5], [61.25, 0.39], [61.25, 0.05], [61.35, 0.44], [61.47, 0.43], [61.6, 0.4], [61.8, 0.36], [61.95, 0.46], [62.0, 0.42], [62.1, 0.38], [62.22, 0.32], [62.4, 0.35], [62.52, 0.37], [62.65, 0.42], [62.8, 0.3], [62.9, 0.5], [62.97, 0.46], [63.1, 0.45], [63.27, 0.43], [63.35, 0.09], [63.4, 0.38], [63.5, 0.42], [63.65, 0.32], [63.8, 0.28], [63.95, 0.36], [64.02, 0.34], [64.2, 0.25], [64.4, 0.15], [64.6, 0.2], [64.85, 0.3], [64.97, 0.25], [65.1, 0.15], [65.22, 0.18], [65.4, 0.08], [65.75, 0.03]];
const irr340Day3 = [[55.32, 0.03], [55.6, 0.04], [55.85, 0.07], [56.1, 0.09], [56.37, 0.11], [56.6, 0.12], [56.8, 0.13], [57.0, 0.17], [57.12, 0.16], [57.3, 0.18], [57.5, 0.14], [57.7, 0.22], [57.87, 0.2], [58.0, 0.24], [58.2, 0.25], [58.4, 0.27], [58.62, 0.28], [58.8, 0.3], [59.07, 0.37], [59.2, 0.33], [59.35, 0.38], [59.45, 0.32], [59.6, 0.35], [59.7, 0.3], [59.82, 0.18], [60.0, 0.25], [60.12, 0.2], [60.25, 0.28], [60.35, 0.3], [60.5, 0.35], [60.6, 0.33], [60.75, 0.38], [60.87, 0.3], [61.0, 0.32], [61.1, 0.35], [61.2, 0.28], [61.32, 0.2], [61.5, 0.25], [61.7, 0.3], [61.85, 0.28], [62.0, 0.25], [62.1, 0.22], [62.3, 0.2], [62.37, 0.16], [62.6, 0.22], [62.8, 0.25], [63.0, 0.27], [63.1, 0.3], [63.27, 0.3], [63.4, 0.26], [63.6, 0.22], [63.8, 0.2], [64.02, 0.16], [64.1, 0.15], [64.3, 0.1], [64.5, 0.12], [64.77, 0.09], [64.9, 0.08], [65.3, 0.05], [65.5, 0.03]];

// ---------- L1 aerosol optical depth ----------
const aodDay1T = [7.3, 7.53, 7.75, 7.98, 8.2, 8.43, 8.65, 8.88, 9.1, 9.33, 9.55, 9.78, 10.0, 10.23, 10.45, 10.68, 10.9, 11.13, 11.35, 11.58, 11.8, 12.03, 12.25, 12.48, 12.7, 12.93, 13.15, 13.3, 13.45, 13.6, 13.75, 13.9, 14.05, 14.2, 14.35, 14.5, 14.65, 14.8, 14.95, 15.1, 15.25, 15.4, 15.55, 15.7, 15.93, 16.15, 16.38, 16.6, 16.83, 17.05, 17.28, 17.5, 17.73, 17.95];
const aod440Day1 = [0.08, 0.075, 0.075, 0.07, 0.075, 0.075, 0.08, 0.08, 0.08, 0.085, 0.085, 0.09, 0.09, 0.09, 0.095, 0.1, 0.11, 0.14, 0.11, 0.12, 0.13, 0.14, 0.16, 0.17, 0.19, 0.21, 0.23, 0.27, 0.32, 0.25, 0.2, 0.19, 0.18, 0.31, 0.19, 0.17, 0.18, 0.19, 0.18, 0.2, 0.2, 0.17, 0.15, 0.14, 0.13, 0.12, 0.11, 0.11, 0.1, 0.1, 0.1, 0.09, 0.09, 0.08];
const aod380Day1 = [0.08, 0.075, 0.075, 0.07, 0.075, 0.075, 0.08, 0.08, 0.08, 0.085, 0.085, 0.09, 0.09, 0.095, 0.095, 0.1, 0.11, 0.14, 0.115, 0.125, 0.135, 0.145, 0.165, 0.175, 0.195, 0.215, 0.235, 0.28, 0.33, 0.25, 0.2, 0.19, 0.18, 0.32, 0.19, 0.17, 0.18, 0.2, 0.185, 0.21, 0.205, 0.175, 0.155, 0.145, 0.13, 0.12, 0.115, 0.11, 0.1, 0.1, 0.1, 0.09, 0.09, 0.08];
const aod340Day1 = [0.085, 0.08, 0.08, 0.075, 0.08, 0.08, 0.085, 0.085, 0.085, 0.09, 0.09, 0.095, 0.095, 0.1, 0.1, 0.105, 0.115, 0.145, 0.12, 0.13, 0.14, 0.15, 0.17, 0.18, 0.2, 0.22, 0.24, 0.29, 0.335, 0.26, 0.205, 0.195, 0.185, 0.33, 0.195, 0.175, 0.185, 0.205, 0.19, 0.22, 0.21, 0.18, 0.16, 0.15, 0.135, 0.125, 0.12, 0.115, 0.105, 0.105, 0.105, 0.095, 0.095, 0.085];
const aodDay2T = [31.45, 31.68, 31.9, 32.13, 32.35, 32.58, 32.8, 33.03, 33.25, 33.48, 33.63, 33.85, 34.08, 34.23, 34.38, 34.45, 34.6, 34.75, 34.9, 35.05, 35.2, 35.35, 35.5, 35.58, 35.73, 35.88, 36.03, 36.18, 36.33, 36.48, 36.7, 36.93, 37.15, 37.38, 37.6, 37.83, 37.98, 38.13, 38.28, 38.43, 38.58, 38.73, 38.88, 39.03, 39.18, 39.33, 39.48, 39.63, 39.78, 39.93, 40.08, 40.23, 40.38, 40.53, 40.68, 40.83, 40.98, 41.05, 41.2, 41.35, 41.5, 41.58];
const aod440Day2 = [0.07, 0.065, 0.07, 0.065, 0.07, 0.07, 0.075, 0.07, 0.08, 0.2, 0.08, 0.085, 0.09, 0.1, 0.12, 0.17, 0.31, 0.33, 0.3, 0.4, 0.36, 0.5, 0.55, 0.45, 0.4, 0.28, 0.25, 0.22, 0.27, 0.22, 0.2, 0.2, 0.18, 0.17, 0.16, 0.22, 0.33, 0.42, 0.46, 0.5, 0.65, 0.5, 0.48, 0.62, 0.55, 0.42, 0.5, 0.38, 0.31, 0.19, 0.42, 0.46, 0.42, 0.5, 0.38, 0.3, 0.07, 0.25, 0.68, 0.45, 0.33, 0.6];
const aod380Day2 = [0.07, 0.065, 0.07, 0.065, 0.07, 0.07, 0.075, 0.07, 0.08, 0.19, 0.08, 0.085, 0.09, 0.1, 0.12, 0.17, 0.3, 0.33, 0.29, 0.39, 0.35, 0.49, 0.54, 0.44, 0.39, 0.28, 0.25, 0.22, 0.26, 0.22, 0.2, 0.2, 0.18, 0.17, 0.16, 0.22, 0.32, 0.41, 0.45, 0.49, 0.63, 0.49, 0.47, 0.6, 0.54, 0.41, 0.49, 0.37, 0.3, 0.19, 0.41, 0.45, 0.41, 0.49, 0.37, 0.29, 0.07, 0.25, 0.66, 0.44, 0.32, 0.59];
const aod340Day2 = [0.07, 0.065, 0.07, 0.065, 0.07, 0.07, 0.075, 0.07, 0.08, 0.19, 0.08, 0.085, 0.09, 0.1, 0.12, 0.16, 0.29, 0.32, 0.28, 0.38, 0.34, 0.48, 0.53, 0.43, 0.38, 0.27, 0.24, 0.21, 0.25, 0.21, 0.19, 0.19, 0.17, 0.16, 0.15, 0.21, 0.31, 0.4, 0.44, 0.48, 0.62, 0.48, 0.46, 0.59, 0.53, 0.4, 0.48, 0.36, 0.29, 0.18, 0.4, 0.44, 0.4, 0.48, 0.36, 0.28, 0.07, 0.24, 0.65, 0.43, 0.31, 0.58];
const aodDay3T = [55.83, 56.13, 56.16, 56.2, 56.58, 56.65, 56.8, 56.95, 57.1, 57.25, 57.48, 57.55, 57.63, 57.7, 57.93, 58.0, 58.08, 58.15, 58.3, 58.45, 58.6, 58.75, 58.83, 58.98, 59.05, 59.2, 59.28, 59.5, 59.65, 59.8, 59.88, 59.95, 60.03, 60.33, 60.48, 60.55, 60.7, 60.78, 60.85, 61.0, 61.04, 61.3, 61.45, 61.83, 61.9, 61.94, 61.98, 62.2, 62.24, 62.88, 62.95, 63.1, 63.33, 63.48, 63.7, 63.93, 64.0, 64.08, 64.11, 64.38, 64.75, 65.13, 65.2, 65.28, 65.43, 65.5, 65.95, 65.99, 66.03];
const aod440Day3 = [0.29, 0.73, 0.55, 0.45, 0.7, 0.67, 0.6, 0.45, 0.34, 0.4, 0.56, 0.67, 0.79, 0.88, 1.1, 1.05, 0.93, 0.78, 0.51, 0.31, 0.4, 0.44, 0.71, 0.65, 0.59, 0.49, 0.36, 0.3, 0.23, 0.68, 0.98, 0.8, 0.65, 0.19, 1.19, 1.12, 0.84, 0.88, 0.45, 0.31, 0.96, 0.36, 1.03, 0.56, 0.74, 1.19, 1.31, 0.8, 0.53, 0.71, 0.55, 0.65, 0.46, 0.4, 0.3, 0.69, 0.51, 0.2, 0.36, 0.46, 1.59, 0.65, 0.55, 0.49, 0.9, 0.86, 1.03, 0.99, 0.8];
const aod380Day3 = [0.28, 0.71, 0.54, 0.44, 0.69, 0.66, 0.58, 0.44, 0.33, 0.39, 0.55, 0.66, 0.77, 0.86, 1.08, 1.03, 0.91, 0.76, 0.5, 0.3, 0.39, 0.43, 0.69, 0.62, 0.57, 0.48, 0.35, 0.29, 0.22, 0.66, 0.95, 0.78, 0.63, 0.18, 1.14, 1.1, 0.8, 0.86, 0.44, 0.3, 0.94, 0.35, 1.0, 0.55, 0.72, 1.16, 1.27, 0.78, 0.52, 0.69, 0.54, 0.63, 0.45, 0.39, 0.29, 0.67, 0.5, 0.19, 0.35, 0.45, 1.57, 0.64, 0.54, 0.48, 0.88, 0.85, 1.01, 0.97, 0.79];
const aod340Day3 = [0.27, 0.7, 0.53, 0.43, 0.68, 0.65, 0.57, 0.43, 0.32, 0.38, 0.54, 0.65, 0.76, 0.85, 1.07, 1.02, 0.9, 0.75, 0.49, 0.29, 0.38, 0.42, 0.68, 0.61, 0.56, 0.47, 0.34, 0.28, 0.21, 0.65, 0.94, 0.77, 0.62, 0.17, 1.13, 1.09, 0.79, 0.85, 0.43, 0.29, 0.93, 0.34, 0.99, 0.54, 0.71, 1.15, 1.26, 0.77, 0.51, 0.68, 0.53, 0.62, 0.44, 0.38, 0.28, 0.66, 0.49, 0.18, 0.34, 0.44, 1.56, 0.63, 0.53, 0.47, 0.87, 0.84, 1.0, 0.96, 0.78];

// ---------- axis ticks ----------
const vcTicks = [0, 2, 4, 6, 8];
const uncTicks = [1e-6, 1e-5];
const uncMinorTicks = [6e-7, 7e-7, 8e-7, 9e-7, 2e-6, 3e-6, 4e-6, 5e-6, 6e-6, 7e-6, 8e-6, 9e-6, 2e-5, 3e-5, 4e-5];
const wrmsTicks = [1e-3, 1e-2, 1e-1];
const wrmsMinorTicks = [2e-4, 3e-4, 4e-4, 5e-4, 6e-4, 7e-4, 8e-4, 9e-4, 2e-3, 3e-3, 4e-3, 5e-3, 6e-3, 7e-3, 8e-3, 9e-3, 2e-2, 3e-2, 4e-2, 5e-2, 6e-2, 7e-2, 8e-2, 9e-2];
const atmTicks = [0, 20, 40, 60, 80, 100];
const irrTicks = [0, 0.5, 1.0, 1.5];
const aodTicks = [0, 0.5, 1.0, 1.5];

const dqNames = ['DQ0', 'DQ1', 'DQ2'];
const wlNames = ['340 nm', '380 nm', '440 nm'];

const xMinorTicks: number[] = [];
for (let h = 5; h <= 68; h++) if (!xMajorTicks.includes(h)) xMinorTicks.push(h);

const pairs = (t: number[], v: number[]) => t.map((x, i) => [x, v[i]]);

const SUP: Record<string, string> = { '-': '⁻', '0': '⁰', '1': '¹', '2': '²', '3': '³', '4': '⁴', '5': '⁵', '6': '⁶', '7': '⁷', '8': '⁸', '9': '⁹' };
const fmtPow = (v: number) => '10' + String(Math.round(Math.log10(v))).split('').map((c) => SUP[c] || c).join('');
const fmtTime = (v: number) => {
  const day = 2 + Math.floor(v / 24);
  const hr = Math.round(v - (day - 2) * 24);
  return `10-${String(day).padStart(2, '0')} ${String(hr).padStart(2, '0')}`;
};

// layout of the six stacked panels
const GRID_LEFT = 71;
const GRID_WIDTH = 862;
const PANEL_TOPS = [29, 192, 355, 517, 681, 843];
const PANEL_HEIGHT = 135;

type PanelY = {
  type: 'value' | 'log';
  min: number;
  max: number;
  ticks: number[];
  minor?: number[];
  fmt: (v: number) => string;
  name: string;
  nameX: number;
};

const panelY: PanelY[] = [
  { type: 'value', min: 0, max: 8, ticks: vcTicks, fmt: (v) => String(v), name: 'vc_NO₂ (mol m⁻²)', nameX: 45 },
  { type: 'log', min: 5.3e-7, max: 4.8e-5, ticks: uncTicks, minor: uncMinorTicks, fmt: fmtPow, name: 'uncert_NO₂ (mol m⁻²)', nameX: 27 },
  { type: 'log', min: 1.17e-4, max: 0.1, ticks: wrmsTicks, minor: wrmsMinorTicks, fmt: fmtPow, name: 'wrms_ind', nameX: 27 },
  { type: 'value', min: 0, max: 100, ticks: atmTicks, fmt: (v) => String(v), name: 'atmvar (%)', nameX: 33 },
  { type: 'value', min: -0.08, max: 1.7, ticks: irrTicks, fmt: (v) => v.toFixed(1), name: 'irradiance (W m⁻² nm)', nameX: 36 },
  { type: 'value', min: -0.015, max: 1.675, ticks: aodTicks, fmt: (v) => v.toFixed(1), name: 'aerosol optical depth', nameX: 36 },
];

// legend boxes: [left, top, width, height], first row y, marker x, text x
const legendBoxes = [
  { names: dqNames, colors: [GREEN, ORANGE, BLUE], box: [858, 101, 70, 57], row0: 113, markerX: 874, textX: 896 },
  { names: dqNames, colors: [GREEN, ORANGE, BLUE], box: [858, 198, 70, 55], row0: 208.5, markerX: 874, textX: 896 },
  { names: dqNames, colors: [GREEN, ORANGE, BLUE], box: [858, 361, 70, 56], row0: 371.5, markerX: 874, textX: 896 },
  { names: dqNames, colors: [GREEN, ORANGE, BLUE], box: [78, 523, 70, 56], row0: 534, markerX: 95, textX: 117 },
  { names: wlNames, colors: [BLUE, GREEN, ORANGE], box: [838, 686, 90, 56], row0: 696.5, markerX: 855, textX: 877 },
  { names: wlNames, colors: [BLUE, GREEN, ORANGE], box: [78, 849, 89, 56], row0: 859.5, markerX: 94.5, textX: 116 },
];
const LEGEND_ROW = 17.6;

const MAJOR_GRID = '#b0b0b0';
const MINOR_GRID = '#e0e0e0';
const SPINE = '#333333';

function scatter(name: string, color: string, panel: number, data: number[][]) {
  return {
    type: 'scatter',
    name,
    data,
    xAxisIndex: panel * 2,
    yAxisIndex: panel * 2,
    symbol: 'circle',
    symbolSize: 7,
    itemStyle: { color, opacity: 1 },
    silent: true,
    emphasis: { disabled: true },
  };
}

function legendGraphic(l: (typeof legendBoxes)[number]) {
  const [x, y, w, h] = l.box;
  const children: any[] = [
    {
      type: 'rect',
      z: 100,
      shape: { x: x + 0.5, y: y + 0.5, width: w, height: h, r: 3 },
      style: { fill: 'rgba(255,255,255,0.8)', stroke: '#cccccc', lineWidth: 1 },
    },
  ];
  l.names.forEach((name, k) => {
    const cy = l.row0 + k * LEGEND_ROW;
    children.push({ type: 'circle', z: 101, shape: { cx: l.markerX, cy, r: 2.8 }, style: { fill: l.colors[k] } });
    children.push({
      type: 'text',
      z: 101,
      x: l.textX,
      y: cy,
      style: { text: name, fill: INK, fontSize: 12, fontFamily: FONT, textAlign: 'left', textVerticalAlign: 'middle' },
    });
  });
  return { type: 'group', z: 100, children };
}

function buildOption() {
  const grid = PANEL_TOPS.map((top) => ({
    left: GRID_LEFT,
    top,
    width: GRID_WIDTH,
    height: PANEL_HEIGHT,
    show: true,
    borderColor: SPINE,
    borderWidth: 1,
    backgroundColor: 'transparent',
    containLabel: false,
    outerBoundsMode: 'none',
  }));

  const xAxis: any[] = [];
  const yAxis: any[] = [];
  PANEL_TOPS.forEach((_, i) => {
    xAxis.push({
      type: 'value',
      gridIndex: i,
      min: X_MIN,
      max: X_MAX,
      axisLine: { show: true, onZero: false, lineStyle: { color: SPINE, width: 1 } },
      axisTick: { show: true, customValues: xMajorTicks, length: 4, lineStyle: { color: SPINE } },
      axisLabel: { show: true, customValues: xMajorTicks, formatter: fmtTime, color: INK, fontSize: 12, fontFamily: FONT, margin: 5 },
      splitLine: { show: true, lineStyle: { color: MAJOR_GRID, width: 1 } },
    });
    xAxis.push({
      type: 'value',
      gridIndex: i,
      min: X_MIN,
      max: X_MAX,
      position: 'bottom',
      axisLine: { show: false, onZero: false },
      axisTick: { show: true, customValues: xMinorTicks, length: 2, lineStyle: { color: SPINE } },
      axisLabel: { show: false },
      splitLine: { show: true, lineStyle: { color: MINOR_GRID, width: 1 } },
    });

    const p = panelY[i];
    const base: any = p.type === 'log' ? { type: 'log', logBase: 10 } : { type: 'value' };
    yAxis.push({
      ...base,
      gridIndex: i,
      min: p.min,
      max: p.max,
      axisLine: { show: true, onZero: false, lineStyle: { color: SPINE, width: 1 } },
      axisTick: { show: true, customValues: p.ticks, length: 4, lineStyle: { color: SPINE } },
      axisLabel: { show: true, customValues: p.ticks, formatter: p.fmt, color: INK, fontSize: 12, fontFamily: FONT, margin: 5 },
      splitLine: { show: true, lineStyle: { color: MAJOR_GRID, width: 1 } },
    });
    yAxis.push({
      ...base,
      gridIndex: i,
      min: p.min,
      max: p.max,
      show: !!p.minor,
      position: 'left',
      axisLine: { show: false, onZero: false },
      axisTick: { show: !!p.minor, customValues: p.minor || p.ticks, length: 2, lineStyle: { color: SPINE } },
      axisLabel: { show: false },
      splitLine: { show: !!p.minor, lineStyle: { color: MINOR_GRID, width: 1 } },
    });
  });

  const series = [
    scatter('DQ0', GREEN, 0, [...pairs(l2Day1T, vcDQ0Day1), ...pairs(l2Day1T, vcDQ0Day1b), ...pairs(l2Day2T, vcDQ0Day2), ...pairs(l2Day2T, vcDQ0Day2b), ...pairs(l2Day3T, vcDQ0Day3), ...pairs(l2Day3T, vcDQ0Day3b)]),
    scatter('DQ1', ORANGE, 0, vcDQ1),
    scatter('DQ2', BLUE, 0, vcDQ2),
    scatter('DQ0', GREEN, 1, [...pairs(l2Day1T, uncDQ0Day1), ...pairs(l2Day2T, uncDQ0Day2), ...pairs(l2Day3T, uncDQ0Day3)]),
    scatter('DQ1', ORANGE, 1, uncDQ1),
    scatter('DQ2', BLUE, 1, uncDQ2),
    scatter('DQ0', GREEN, 2, [...pairs(l2Day1T, wrmsDQ0Day1), ...pairs(l2Day2T, wrmsDQ0Day2), ...pairs(l2Day3T, wrmsDQ0Day3)]),
    scatter('DQ1', ORANGE, 2, wrmsDQ1),
    scatter('DQ2', BLUE, 2, wrmsDQ2),
    scatter('DQ0', GREEN, 3, [
      ...pairs(atmDay1T, atmDQ0Day1), ...pairs(atmDay1T, atmDQ0Day1b),
      ...pairs(atmDay2T, atmDQ0Day2), ...pairs(atmDay2T, atmDQ0Day2b),
      ...pairs(atmDay3T, atmDQ0Day3), ...pairs(atmDay3T, atmDQ0Day3b), ...pairs(atmDay3T, atmDQ0Day3c),
    ]),
    scatter('DQ1', ORANGE, 3, atmDQ1),
    scatter('DQ2', BLUE, 3, atmDQ2),
    scatter('340 nm', BLUE, 4, [...pairs(irrDay1T, irr340Day1), ...pairs(irrDay2T, irr340Day2), ...irr340Day3]),
    scatter('380 nm', GREEN, 4, [...pairs(irrDay1T, irr380Day1), ...pairs(irrDay2T, irr380Day2), ...irr380Day3]),
    scatter('440 nm', ORANGE, 4, [...pairs(irrDay1T, irr440Day1), ...pairs(irrDay2T, irr440Day2), ...irr440Day3]),
    scatter('340 nm', BLUE, 5, [...pairs(aodDay1T, aod340Day1), ...pairs(aodDay2T, aod340Day2), ...pairs(aodDay3T, aod340Day3)]),
    scatter('380 nm', GREEN, 5, [...pairs(aodDay1T, aod380Day1), ...pairs(aodDay2T, aod380Day2), ...pairs(aodDay3T, aod380Day3)]),
    scatter('440 nm', ORANGE, 5, [...pairs(aodDay1T, aod440Day1), ...pairs(aodDay2T, aod440Day2), ...pairs(aodDay3T, aod440Day3)]),
  ];

  const centerText = (text: string, x: number, y: number, rotation = 0, fontSize = 14) => ({
    type: 'text',
    x,
    y,
    rotation,
    z: 100,
    style: { text, fill: INK, fontSize, fontFamily: FONT, textAlign: 'center', textVerticalAlign: 'middle' },
  });

  const gridCenterX = GRID_LEFT + GRID_WIDTH / 2;
  const yNames = panelY.map((p, i) => centerText(p.name, p.nameX, PANEL_TOPS[i] + PANEL_HEIGHT / 2, Math.PI / 2));

  return {
    animation: false,
    backgroundColor: '#ffffff',
    textStyle: { fontFamily: FONT },
    grid,
    xAxis,
    yAxis,
    series,
    graphic: [
      centerText('Izana L2 data', gridCenterX, 19),
      centerText('Izana L1 data (measurement routine SQ)', gridCenterX, 690),
      centerText('Izana L1 data (AOD)', gridCenterX, 851),
      centerText('ut datetime', gridCenterX, 1005),
      ...yNames,
      {
        type: 'text',
        x: GRID_LEFT,
        y: 22,
        style: { text: '1e-5', fill: INK, fontSize: 12, fontFamily: FONT, textAlign: 'left', textVerticalAlign: 'middle' },
      },
      ...legendBoxes.map(legendGraphic),
    ],
  };
}

export default function App() {
  const ref = useRef<HTMLDivElement>(null);
  useEffect(() => {
    if (!ref.current) return;
    const chart = echarts.init(ref.current, null, { renderer: 'svg' });
    chart.setOption(buildOption() as any);
    return () => chart.dispose();
  }, []);
  return (
    <div
      ref={ref}
      style={{ position: 'absolute', left: 0, top: 0, width: 928, height: 1013, background: '#ffffff' }}
    />
  );
}
